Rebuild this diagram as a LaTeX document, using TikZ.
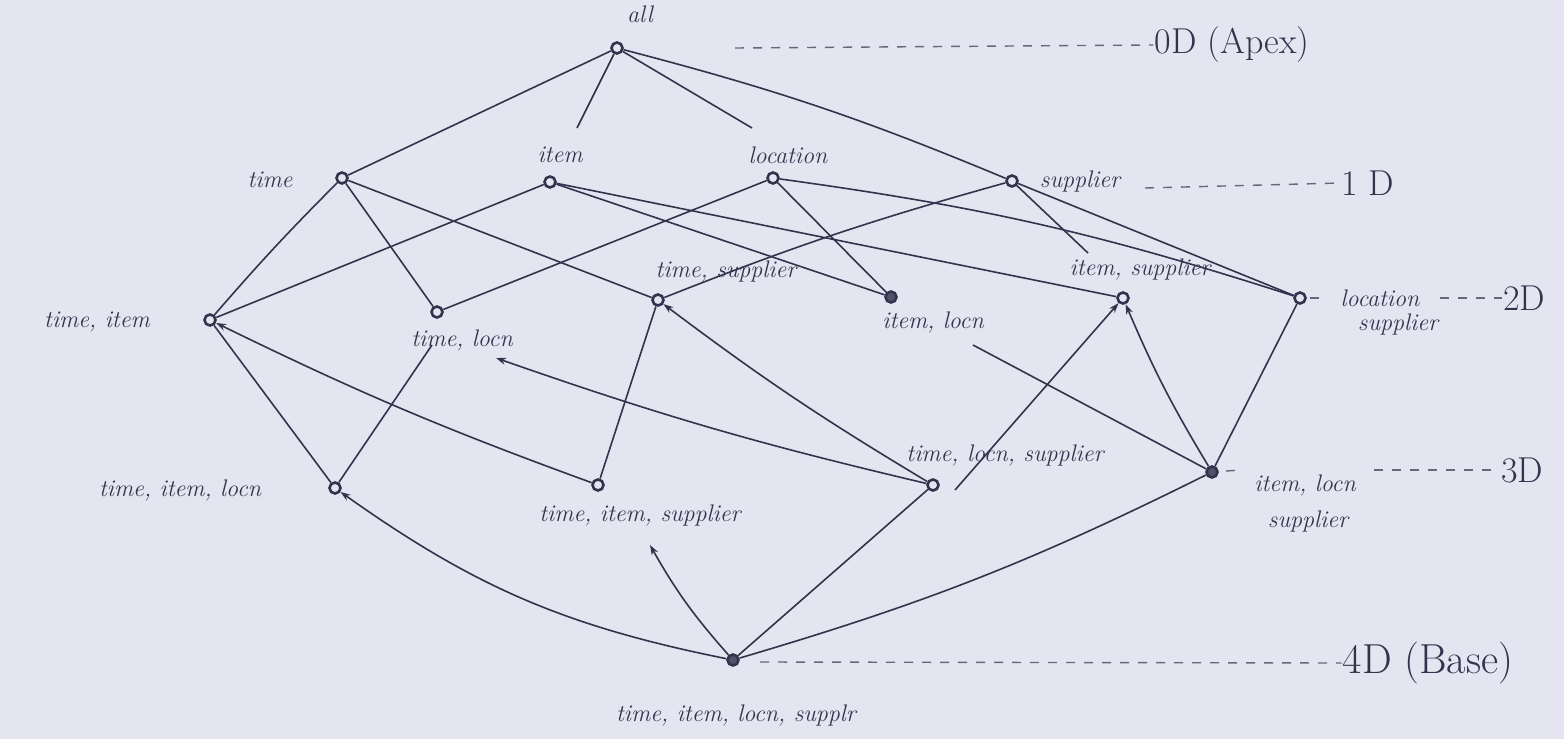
\documentclass[tikz,border=0pt]{standalone}
\usetikzlibrary{arrows.meta}
\definecolor{ink}{RGB}{50,52,78}
\definecolor{paper}{RGB}{228,229,240}
\begin{document}
\begin{tikzpicture}[x=1pt,y=-1pt,
  vert/.style={circle,draw=ink,fill=paper,line width=2.6pt,minimum size=11pt,inner sep=0pt},
  vfill/.style={vert,fill=ink!85},
  edge/.style={draw=ink,line width=1.6pt},
  arr/.style={edge,-{Stealth[length=10pt,width=7pt]}},
  lbl/.style={text=ink,font=\fontsize{24}{28}\selectfont\itshape,inner sep=1pt},
  lvl/.style={text=ink,font=\fontsize{36}{40}\selectfont,inner sep=1pt},
  lvlbig/.style={lvl,font=\fontsize{42}{46}\selectfont},
  lvldash/.style={draw=ink!75,line width=1.4pt,dash pattern=on 9pt off 9pt}]
\fill[paper] (0,0) rectangle (1564,739);
\useasboundingbox (0,0) rectangle (1564,739);

% vertices
\node[vert] (all) at (617,48) {};
\node[vert] (t) at (342,178) {};
\node[vert] (i) at (550,182) {};
\node[vert] (l) at (773,178) {};
\node[vert] (s) at (1012,181) {};
\node[vert] (ti) at (210,320) {};
\node[vert] (tl) at (437,312) {};
\node[vert] (ts) at (658,300) {};
\node[vfill] (il) at (891,297) {};
\node[vert] (is) at (1123,298) {};
\node[vert] (ls) at (1300,298) {};
\node[vert] (til) at (335,488) {};
\node[vert] (tis) at (598,485) {};
\node[vert] (tls) at (933,485) {};
\node[vfill] (ils) at (1212,472) {};
\node[vfill] (base) at (733,660) {};

% labels
\node[lbl] (Lall) at (640,14) {all};
\node[lbl] (Lt) at (270,180) {time};
\node[lbl] (Li) at (560,155) {item};
\node[lbl] (Ll) at (788,155) {location};
\node[lbl] (Ls) at (1080,181) {supplier};
\node[lbl] (Lti) at (97,322) {time, item};
\node[lbl] (Ltl) at (462,340) {time, locn};
\node[lbl] (Lts) at (726,271) {time, supplier};
\node[lbl] (Lil) at (933,322) {item, locn};
\node[lbl] (Lis) at (1140,269) {item, supplier};
\node[lbl] (Lls) at (1380,298) {location};
\node[lbl] (Lls2) at (1398,324) {supplier};
\node[lbl] (Ltil) at (180,490) {time, item, locn};
\node[lbl] (Ltis) at (640,515) {time, item, supplier};
\node[lbl] (Ltls) at (1005,455) {time, locn, supplier};
\node[lbl] (Lils) at (1305,485) {item, locn};
\node[lbl] (Lils2) at (1308,521) {supplier};
\node[lbl] (Lbase) at (736,715) {time, item, locn, supplr};

% level labels
\node[lvl] (L0) at (1232,45) {0D (Apex)};
\node[lvl] (L1) at (1368,183) {1 D};
\node[lvl] (L2) at (1524,298) {2D};
\node[lvl] (L3) at (1522,470) {3D};
\node[lvlbig] (L4) at (1428,663) {4D (Base)};

\coordinate (d0a) at (735,48);
\coordinate (d1a) at (1145,188);
\coordinate (d2a) at (1440,298);
\coordinate (d2b) at (1310,298);
\coordinate (d2c) at (1326,298);
\coordinate (d3a) at (1374,470);
\coordinate (d3b) at (1226,471);
\coordinate (d3c) at (1242,470);
\coordinate (d4a) at (760,662);
\draw[lvldash] (d0a) -- (L0.west);
\draw[lvldash] (d1a) -- (L1.west);
\draw[lvldash] (d2a) -- (L2.west);
\draw[lvldash] (d2b) -- (d2c);
\draw[lvldash] (d3a) -- (L3.west);
\draw[lvldash] (d3b) -- (d3c);
\draw[lvldash] (d4a) -- (L4.west);

% free ends
\coordinate (cAI) at (577,128);
\coordinate (cAL) at (752,128);
\coordinate (cSI) at (1088,253);
\coordinate (cTLtil) at (432,345);
\coordinate (cTLarr) at (496,358);
\coordinate (cIL) at (973,345);
\coordinate (cTLS) at (955,490);
\coordinate (cTIS) at (650,545);

% apex
\draw[edge] (all) -- (t);
\draw[edge] (all) -- (cAI);
\draw[edge] (all) -- (cAL);
\draw[edge] (all) to[bend left=4] (s);

% 1D -> 2D
\draw[edge] (t) to[bend right=2] (ti);
\draw[edge] (t) -- (tl);
\draw[edge] (t) -- (ts);
\draw[edge] (i) -- (ti);
\draw[edge] (i) -- (il);
\draw[edge] (i) -- (is);
\draw[edge] (l) -- (tl);
\draw[edge] (l) -- (il);
\draw[edge] (l) to[bend left=5] (ls);
\draw[edge] (s) to[bend right=3] (ts);
\draw[edge] (s) -- (cSI);
\draw[edge] (s) -- (ls);

% 2D -> 3D
\draw[edge] (ti) -- (til);
\draw[arr] (tis) to[bend left=3] (ti);
\draw[edge] (til) -- (cTLtil);
\draw[arr] (tls) to[bend left=3] (cTLarr);
\draw[edge] (ts) -- (tis);
\draw[arr] (tls) to[bend left=3] (ts);
\draw[edge] (cIL) -- (ils);
\draw[arr] (cTLS) -- (is);
\draw[arr] (ils) to[bend left=4] (is);
\draw[edge] (ls) -- (ils);

% 3D -> 4D
\draw[arr] (base) to[bend left=12] (til);
\draw[arr] (base) to[bend left=6] (cTIS);
\draw[edge] (base) -- (tls);
\draw[edge] (base) to[bend right=5] (ils);
\end{tikzpicture}
\end{document}
